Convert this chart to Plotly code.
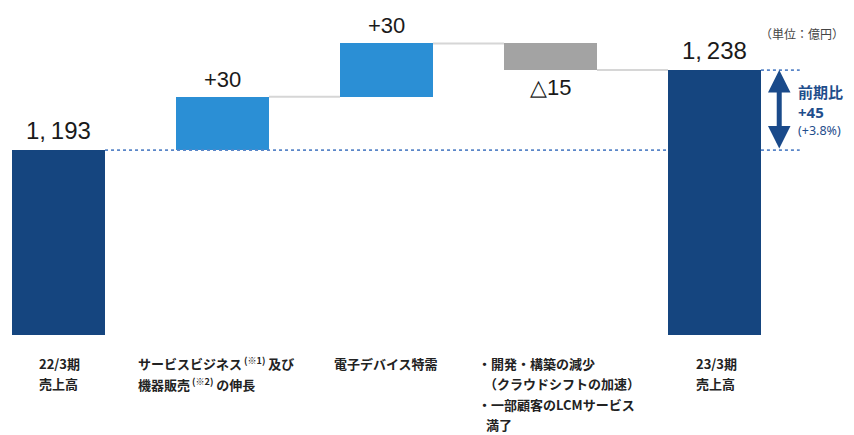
import plotly.graph_objects as go

# ---- data ----
steps = ["22/3期 売上高", "サービスビジネス及び機器販売の伸長", "電子デバイス特需", "開発・構築の減少 等", "23/3期 売上高"]
values = [1193, 30, 30, -15, 1238]
measures = ["absolute", "relative", "relative", "relative", "total"]
label_lines = [
    ["22/3期", "売上高"],
    ["サービスビジネス<sup> (※1)</sup> 及び", "機器販売<sup> (※2)</sup> の伸長"],
    ["電子デバイス特需"],
    ["・開発・構築の減少", "（クラウドシフトの加速）", "・一部顧客のLCMサービス", "満了"],
    ["23/3期", "売上高"],
]
unit_text = "（単位：億円）"
yoy_title = "前期比"

# ---- derived geometry from data ----
bases, tops, colors = [], [], []
run = 0
NAVY = "#15457f"
BLUE = "#2b8fd5"
GRAY = "#a3a3a3"
for v, m in zip(values, measures):
    if m in ("absolute", "total"):
        run = v if m == "absolute" else run
        bases.append(0)
        tops.append(run)
        colors.append(NAVY)
    else:
        start = run
        run = run + v
        bases.append(min(start, run))
        tops.append(max(start, run))
        colors.append(BLUE if v > 0 else GRAY)

x = list(range(len(values)))
heights = [t - b for t, b in zip(tops, bases)]
W = 0.567

def fmt_total(v):
    s = f"{v:,}"
    return s.replace(",", ",\u2009")

def fmt_step(v):
    return f"+{v}" if v > 0 else f"△{abs(v)}"

fig = go.Figure()
fig.add_trace(go.Bar(
    x=x, y=heights, base=bases, width=W,
    marker=dict(color=colors, line=dict(width=0)),
    hoverinfo="skip", showlegend=False, cliponaxis=True,
))

shapes = []
ann = []
NUMFONT = "Liberation Sans Narrow, Arial Narrow, Liberation Sans, Arial, sans-serif"

levels = []
run = 0
for i, (v, m) in enumerate(zip(values, measures)):
    if m == "absolute":
        run = v
    elif m == "relative":
        run += v
    levels.append(run)

for i in range(1, len(values) - 1):
    shapes.append(dict(type="line", xref="x", yref="y",
                       x0=i + W / 2, x1=i + 1 - W / 2, y0=levels[i], y1=levels[i],
                       line=dict(color="#d6d6d6", width=2), layer="below"))

start_level = values[0]
end_level = levels[-1]
DASH = dict(color="#5a86c8", width=1.8, dash="3px,3px")
last = len(values) - 1
xr = last + 0.52
shapes.append(dict(type="line", xref="x", yref="y", x0=W / 2, x1=last - W / 2,
                   y0=start_level, y1=start_level, line=DASH, layer="above"))
shapes.append(dict(type="line", xref="x", yref="y", x0=last + W / 2, x1=xr,
                   y0=start_level, y1=start_level, line=DASH, layer="above"))
shapes.append(dict(type="line", xref="x", yref="y", x0=last + W / 2, x1=xr,
                   y0=end_level, y1=end_level, line=DASH, layer="above"))

# value labels
for i, (v, m) in enumerate(zip(values, measures)):
    if m in ("absolute", "total"):
        ann.append(dict(x=i, y=tops[i], xref="x", yref="y", text=fmt_total(levels[i]),
                        showarrow=False, yanchor="bottom", yshift=4,
                        font=dict(family=NUMFONT, size=24, color="#1a1a1a")))
    elif v > 0:
        ann.append(dict(x=i, y=tops[i], xref="x", yref="y", text=fmt_step(v),
                        showarrow=False, yanchor="bottom", yshift=3,
                        font=dict(family=NUMFONT, size=22, color="#1a1a1a")))
    else:
        ann.append(dict(x=i, y=bases[i], xref="x", yref="y", text=fmt_step(v),
                        showarrow=False, yanchor="top", yshift=-3,
                        font=dict(family=NUMFONT, size=22, color="#1a1a1a")))

# category labels below
label_offsets = [-21.5, -86.5, -54.5, -74.5, -20.5]
line_indent = {(3, 1): 6, (3, 3): 8}
for i, lines in enumerate(label_lines):
    for j, t in enumerate(lines):
        ann.append(dict(x=i, y=0, xref="x", yref="paper", text=t, showarrow=False,
                        xanchor="left", yanchor="middle",
                        xshift=label_offsets[i] + line_indent.get((i, j), 0),
                        yshift=-28 - 20.5 * j,
                        font=dict(family="Noto Sans CJK JP", size=13, color="#222222",
                                  weight="bold")))

# unit text
ann.append(dict(x=1, y=1, xref="paper", yref="paper", text=unit_text, showarrow=False,
                xanchor="right", yanchor="middle", xshift=-8, yshift=-33,
                font=dict(family="Noto Sans CJK JP", size=12, color="#444444")))

# double arrow
ax_x = last + 0.395
ann.append(dict(x=ax_x, y=end_level, ax=ax_x, ay=start_level, xref="x", yref="y",
                axref="x", ayref="y", text="", showarrow=True, arrowhead=2, startarrowhead=2,
                arrowside="end+start", arrowwidth=5, arrowsize=0.9, startarrowsize=0.9,
                arrowcolor="#1a4a8a", standoff=0, startstandoff=0))

diff = end_level - start_level
pct = diff / start_level * 100
RX = last + 0.5
ann.append(dict(x=RX, y=end_level, xref="x", yref="y", text=yoy_title, showarrow=False,
                xanchor="left", yanchor="middle", yshift=-21,
                font=dict(family="Noto Sans CJK JP", size=15, color="#1f4e8c", weight="bold")))
ann.append(dict(x=RX, y=end_level, xref="x", yref="y", text=f"+{diff}", showarrow=False,
                xanchor="left", yanchor="middle", yshift=-42,
                font=dict(family="Noto Sans", size=15, color="#1f4e8c", weight="bold")))
ann.append(dict(x=RX, y=end_level, xref="x", yref="y", text=f"(+{pct:.1f}%)", showarrow=False,
                xanchor="left", yanchor="middle", yshift=-60,
                font=dict(family="Noto Sans", size=12.5, color="#1f4e8c")))

fig.update_layout(
    width=854, height=435,
    margin=dict(l=0, r=0, t=0, b=100),
    paper_bgcolor="white", plot_bgcolor="white",
    xaxis=dict(range=[-0.357, 4.851], visible=False, fixedrange=True),
    yaxis=dict(range=[1089, 1277.4], visible=False, fixedrange=True),
    shapes=shapes, annotations=ann, bargap=0,
)
fig.write_html("out.html", config={"displayModeBar": False},
               post_script="document.body.style.margin='0';document.body.style.overflow='hidden';")
